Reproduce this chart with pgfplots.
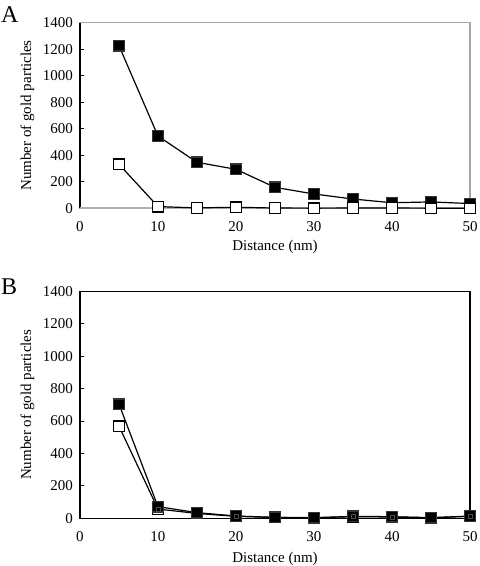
\documentclass[border=0pt]{standalone}
\usepackage{pgfplots}
\pgfplotsset{compat=1.18}
\usepackage{fontspec}
\setmainfont{Liberation Serif}
\begin{document}
\fontsize{15}{17}\selectfont
\begin{tikzpicture}
\path[use as bounding box] (0pt,0pt) rectangle (480pt,-566pt);
\pgfplotsset{
  common/.style={
    scale only axis, width=390pt,
    xmin=0, xmax=50, ymin=0, ymax=1400,
    xtick={0,10,20,30,40,50}, ytick={0,200,400,600,800,1000,1200,1400},
    xtick style={draw=none},
    ytick pos=left, xtick pos=bottom,
    tick align=inside, major tick length=4pt,
    ytick style={black, line width=1pt},
    /pgf/number format/assume math mode=true,
    /pgf/number format/1000 sep={},
    tick label style={font=\fontsize{15}{17}\selectfont},
    xticklabel style={yshift=-8pt},
    yticklabel style={xshift=-2pt},
    label style={font=\fontsize{15}{17}\selectfont},
    xlabel={Distance (nm)}, ylabel={Number of gold particles},
    clip=false,
  },
  fil/.style={black, line width=1.2pt, mark=square*, mark size=5.3pt, mark options={fill=black, draw=black!80, line width=1.3pt}},
  opn/.style={black, line width=1.2pt, mark=square*, mark size=5.3pt, mark options={fill=white, draw=black, line width=1.3pt}},
}
% Panel A
\begin{axis}[common, at={(80pt,-208.3pt)}, anchor=south west, height=185.6pt,
  axis line style={gray!70, line width=1.2pt},
  xlabel style={at={(axis description cs:0.5,-0.21)}, anchor=center},
  ylabel style={at={(axis description cs:-0.135,0.5)}, anchor=center},
  ]
\draw[black, line width=1.2pt] (axis cs:0,0) -- (axis cs:0,1400);
\draw[gray!60, line width=2pt] (axis cs:0,0) -- (axis cs:50,0);
\addplot[fil] coordinates {(5,1226) (10,545) (15,347) (20,294) (25,158) (30,108) (35,70) (40,42) (45,48) (50,36)};
\addplot[opn] coordinates {(5,332) (10,13) (15,3) (20,8) (25,2) (30,1) (35,2) (40,2) (45,1) (50,1)};
\end{axis}
\node[font=\fontsize{24}{26}\selectfont, anchor=west, inner sep=0pt] at (1pt,-15pt) {A};
% Panel B
\begin{axis}[common, at={(80pt,-518.3pt)}, anchor=south west, height=227pt,
  axis line style={black, line width=1.2pt},
  xlabel style={at={(axis description cs:0.5,-0.18)}, anchor=center},
  ylabel style={at={(axis description cs:-0.135,0.5)}, anchor=center},
  ]
\addplot[opn] coordinates {(5,568) (10,57) (15,30) (20,12) (25,5) (30,3) (35,10) (40,8) (45,3) (50,12)};
\addplot[fil] coordinates {(5,704) (10,72) (15,35) (20,14) (25,6) (30,4) (35,12) (40,10) (45,4) (50,14)};
\addplot[black, only marks, mark=square, mark size=2pt, mark options={draw=black!70, line width=0.8pt}] coordinates {(10,57) (20,12) (35,10) (40,8) (50,12)};
\end{axis}
\node[font=\fontsize{24}{26}\selectfont, anchor=west, inner sep=0pt] at (1pt,-287pt) {B};
\end{tikzpicture}
\end{document}
